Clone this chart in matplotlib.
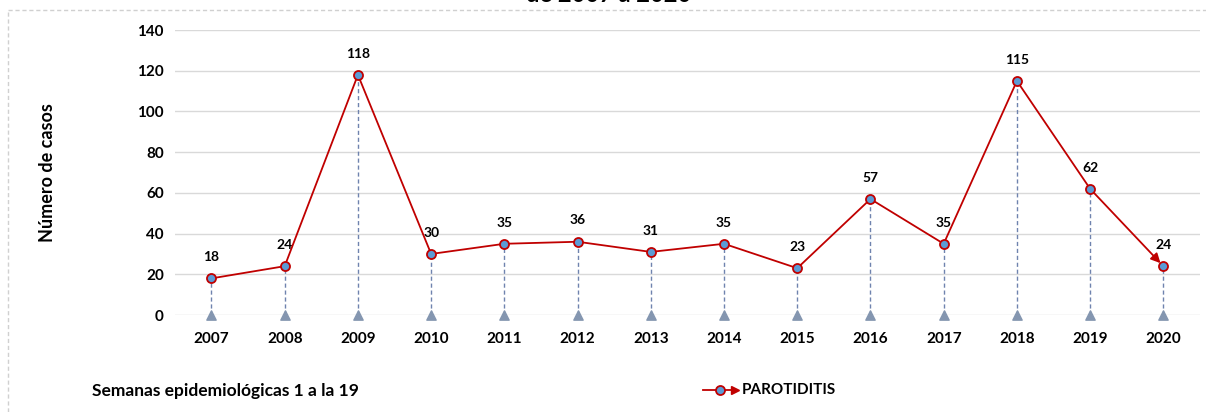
import matplotlib.pyplot as plt
from matplotlib.lines import Line2D

years = ['2007', '2008', '2009', '2010', '2011', '2012', '2013',
         '2014', '2015', '2016', '2017', '2018', '2019', '2020']
cases = [18, 24, 118, 30, 35, 36, 31, 35, 23, 57, 35, 115, 62, 24]
yticks = [0, 20, 40, 60, 80, 100, 120, 140]

plt.rcParams['font.family'] = ['Lato', 'DejaVu Sans']
plt.rcParams['font.weight'] = 'bold'

fig = plt.figure(figsize=(12.06, 4.12), dpi=100)
ax = fig.add_axes([0.145, 0.2354, 0.85, 0.6916])

x = list(range(len(years)))
red = '#C00000'
blue = '#5B9BD5'
drop = '#6F83AE'

# drop lines + triangles at zero
ax.vlines(x, 0, cases, colors=drop, linestyles=(0, (3, 2)), lw=1, zorder=2)
ax.scatter(x, [0] * len(x), marker='^', s=45, color='#8496B0', zorder=3, clip_on=False)

# main line, last segment drawn as arrow
ax.plot(x[:-1], cases[:-1], color=red, lw=1.3, zorder=4)
ax.annotate('', xy=(x[-1], cases[-1]), xytext=(x[-2], cases[-2]),
            arrowprops=dict(arrowstyle='-|>', color=red, lw=1.3, mutation_scale=14,
                            shrinkA=0, shrinkB=3), zorder=4)
ax.plot(x, cases, linestyle='none', marker='o', ms=6.5, mfc=blue, mec=red, mew=1.3, zorder=5)

for xi, v in zip(x, cases):
    ax.annotate(str(v), (xi, v), xytext=(0, 11), textcoords='offset points',
                ha='center', va='bottom', fontsize=10, fontweight='bold')

ax.set_xlim(-0.5, len(years) - 0.5)
ax.set_ylim(0, 140)
ax.set_yticks(yticks)
ax.set_xticks(x)
ax.set_xticklabels(years)
ax.yaxis.grid(True, color='#D9D9D9', lw=1)
ax.set_axisbelow(True)
for s in ax.spines.values():
    s.set_visible(False)
ax.tick_params(length=0, labelsize=11, pad=8)
ax.tick_params(axis='x', pad=12)
ax.set_ylabel('Número de casos', fontsize=13, fontweight='bold', labelpad=58)

fig.text(0.076, 0.052, 'Semanas epidemiológicas 1 a la 19', fontsize=12.5, fontweight='bold',
         ha='left', va='center')

# legend
ly = 1 - 390 / 412
fig.add_artist(Line2D([703 / 1206, 735 / 1206], [ly, ly], color=red, lw=1.3))
fig.add_artist(Line2D([720 / 1206], [ly], marker='o', ms=6.5, mfc=blue, mec=red, mew=1.3))
fig.add_artist(Line2D([735 / 1206], [ly], marker='>', ms=6, color=red))
fig.text(742 / 1206, ly, 'PAROTIDITIS', fontsize=11, fontweight='bold', va='center', ha='left')

# title, clipped at top like the reference
fig.text(0.505, 0.985, 'de 2007 a 2020', fontsize=17, fontweight='bold', ha='center', va='bottom')

# chart border
bord = dict(color='#D0D0D0', lw=1, linestyle=(0, (3, 2)))
fig.add_artist(Line2D([8 / 1206, 1], [1 - 10 / 412, 1 - 10 / 412], **bord))
fig.add_artist(Line2D([8 / 1206, 8 / 1206], [0, 1 - 10 / 412], **bord))

fig.savefig('out.png', dpi=100)
